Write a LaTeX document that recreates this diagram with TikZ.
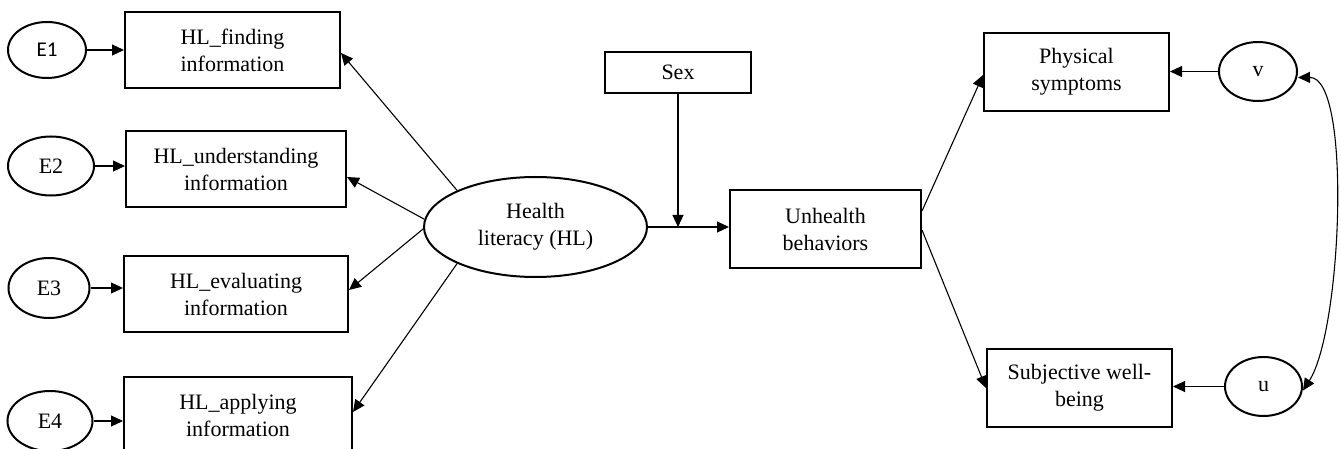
\documentclass[tikz,border=0pt]{standalone}
\usepackage{fontspec}
\setmainfont{Liberation Serif}
\newfontfamily\calib{Carlito}
\usetikzlibrary{arrows.meta,shapes.geometric,calc}
\tikzset{
  boxnode/.style={draw, line width=2pt, rectangle, inner sep=0pt, align=center, font=\fontsize{22}{27}\selectfont},
  errnode/.style={draw, line width=2pt, ellipse, inner sep=0pt, font=\fontsize{22}{27}\selectfont},
  conn/.style={line width=1.1pt, -{Triangle[length=12pt,width=11pt]}},
  dconn/.style={line width=1.1pt, {Triangle[length=12pt,width=11pt]}-{Triangle[length=12pt,width=11pt]}},
}
\begin{document}
\begin{tikzpicture}[x=1pt,y=-1pt]
\useasboundingbox (0,0) rectangle (1341,449);
\clip (0,0) rectangle (1341,449);
% left column
\node[boxnode, minimum width=215pt, minimum height=76pt] (b1) at (232.5,50) {HL\_finding\\information};
\node[boxnode, minimum width=220pt, minimum height=76pt] (b2) at (236,169) {HL\_understanding\\information};
\node[boxnode, minimum width=224pt, minimum height=76pt] (b3) at (236,294) {HL\_evaluating\\information};
\node[boxnode, minimum width=228pt, minimum height=76pt] (b4) at (238,415) {HL\_applying\\information};
\node[errnode, minimum width=78pt, minimum height=56pt, font=\calib\fontsize{21}{26}\selectfont] (e1) at (47,50) {E1};
\node[errnode, minimum width=86pt, minimum height=59pt] (e2) at (51,166) {E2};
\node[errnode, minimum width=81pt, minimum height=60pt] (e3) at (49,288) {E3};
\node[errnode, minimum width=85pt, minimum height=60pt] (e4) at (50,421) {E4};
% centre
\node[errnode, minimum width=223pt, minimum height=100pt, align=center] (hl) at (535.5,227) {Health\\literacy (HL)};
\node[boxnode, minimum width=146pt, minimum height=41pt] (sex) at (678,72.5) {Sex};
\node[boxnode, minimum width=191pt, minimum height=78pt] (uh) at (825.5,229) {Unhealth\\behaviors};
% right
\node[boxnode, minimum width=185pt, minimum height=78pt] (ps) at (1076.5,72) {Physical\\symptoms};
\node[boxnode, minimum width=185pt, minimum height=78pt] (sw) at (1079.5,388) {Subjective well-\\being};
\node[errnode, minimum width=78pt, minimum height=59pt] (v) at (1258,71.5) {v};
\node[errnode, minimum width=77pt, minimum height=59pt] (u) at (1263.5,386.5) {u};
\coordinate (j) at (sex.south |- hl.east);
% connectors
\draw[conn] (e1.east) -- (e1.east -| b1.west);
\draw[conn] (e2.east) -- (e2.east -| b2.west);
\draw[conn] (e3.east) -- (e3.east -| b3.west);
\draw[conn] (e4.east) -- (e4.east -| b4.west);
\draw[conn] (hl.155) -- ([yshift=-3pt]b1.east);
\draw[conn] (hl.176) -- ([yshift=-8pt]b2.east);
\draw[conn] (hl.181) -- ([yshift=4pt]b3.east);
\draw[conn] (hl.205) -- ([yshift=3pt]b4.east);
\draw[conn] (hl.east) -- (hl.east -| uh.west);
\draw[conn] (sex.south) -- (j);
\draw[conn] ([yshift=18pt]uh.east) -- ([yshift=-3pt]ps.west);
\draw[conn] ([yshift=-1pt]uh.east) -- (sw.west);
\draw[conn] (v.west) -- (v.west -| ps.east);
\draw[conn] (u.west) -- (u.west -| sw.east);
\draw[dconn] ([yshift=-6pt]v.east) .. controls (1352,77) and (1342,330) .. ([yshift=-4pt]u.east);
\end{tikzpicture}
\end{document}
